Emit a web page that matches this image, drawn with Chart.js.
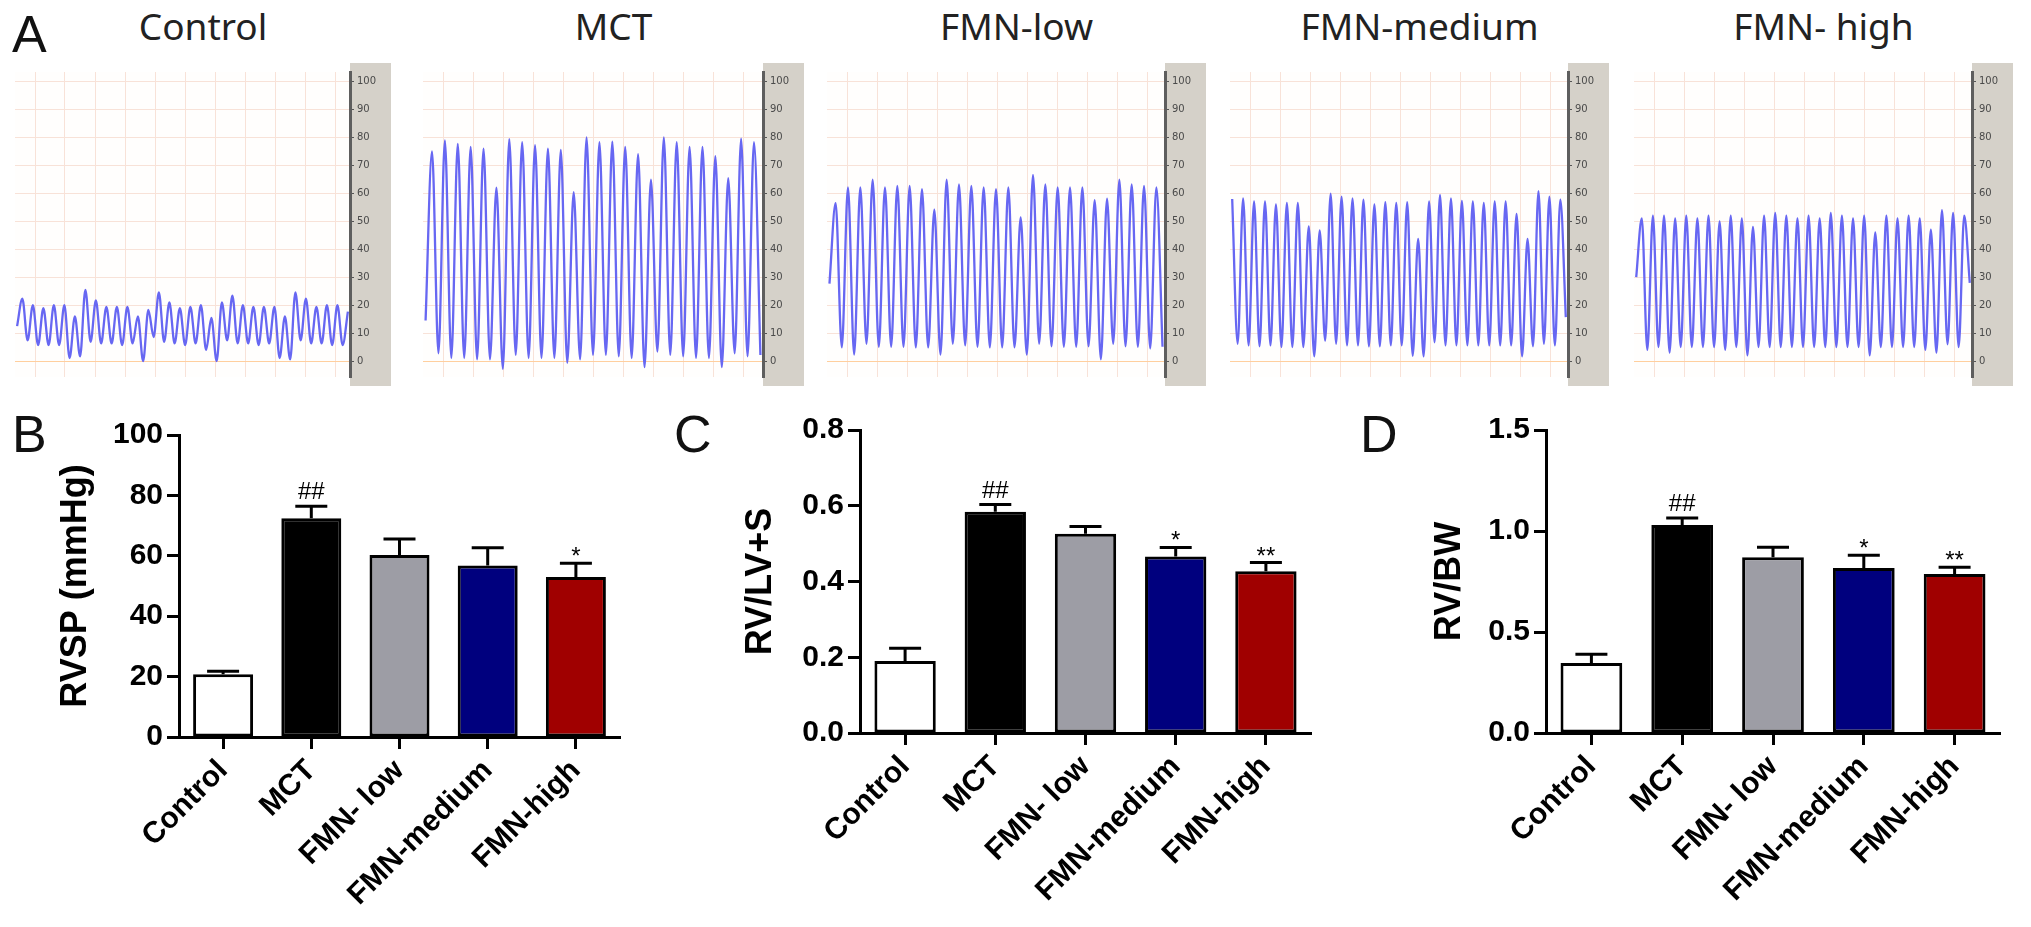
<!DOCTYPE html>
<html><head><meta charset="utf-8">
<script src="https://cdn.jsdelivr.net/npm/chart.js@4.4.1/dist/chart.umd.min.js"></script>
<style>
html,body{margin:0;padding:0;background:#fff;width:2031px;height:927px;overflow:hidden;position:relative}
canvas{position:absolute}
.lbl{position:absolute;font-family:'Liberation Sans',Arial,sans-serif;font-size:52px;line-height:52px;color:#111}
.ttl{position:absolute;font-family:'Noto Sans','Open Sans',sans-serif;font-size:37px;line-height:40px;color:#222;text-align:center;width:400px}
</style></head><body>
<script>
// ---------------- DATA ----------------
const traceTitles = ['Control', 'MCT', 'FMN-low', 'FMN-medium', 'FMN- high'];
const traceTicks = [0, 10, 20, 30, 40, 50, 60, 70, 80, 90, 100];
// alternating peak / trough pressures (mmHg) read from each recording
const controlTrace = [12.5, 22.3, 7.4, 20, 5.7, 18.9, 5.7, 20, 5.7, 20, 1.1, 16, 1.7, 25.5, 6.9, 21.7, 6.3, 19.4, 6.3, 19.4, 5.7, 19.4, 6.3, 16, 0, 18.3, 8.6, 24.6, 6.9, 21, 6.3, 18.9, 5.7, 19.4, 6.3, 20, 4, 15.4, 0, 21, 7.4, 23.4, 6.3, 20, 6.3, 19.4, 5.7, 19.4, 6.3, 19.4, 1.1, 16, 0.6, 24.6, 7.4, 22.3, 6.3, 19.4, 6.3, 20, 5.7, 20, 5.7, 17.7];
const mctTrace = [14.5, 75, 2.8, 78.9, 1.1, 77.7, 1.1, 76.6, 0.6, 76, 0.6, 62, -2.8, 79.4, 2.2, 78.3, 1.1, 77.2, 1.1, 76, 1.1, 75.5, -0.6, 60.4, 0.6, 80, 2.2, 78.3, 2.2, 78.5, 1.7, 76.6, 1.1, 74, -2.2, 64.9, 3.4, 80, 2.2, 78.3, 1.7, 76.6, 1.1, 76.6, 1.1, 73.3, -2.2, 65.4, 2.8, 79.6, 1.7, 78.3, 2.2];
const lowTrace = [27.7, 56.5, 4.9, 62.1, 2.3, 62.1, 6.2, 64.9, 5.1, 62.1, 5.1, 62.7, 5.1, 62.7, 4.9, 61.5, 4.9, 54.2, 2.3, 64.9, 6.2, 63.2, 5.6, 62.7, 5.1, 62.1, 4.9, 61.5, 4.9, 62.1, 4.9, 51.4, 2.3, 66.6, 6.2, 63.2, 5.3, 62.1, 5.1, 62.1, 5.1, 62.1, 5.3, 57.6, 0.6, 58.1, 6.2, 64.9, 5.3, 63.2, 5.1, 62.7, 4.5, 62.1, 5.1];
const mediumTrace = [58, 6.2, 58.2, 5.6, 57.1, 5.3, 57.1, 5.6, 56, 5, 56.6, 5, 56.6, 5, 48.2, 1.7, 46.7, 7.3, 59.9, 6.2, 58.8, 5.6, 58.2, 5.6, 57.7, 5.3, 56, 5.3, 56.8, 5.6, 56.6, 5.6, 56.8, 1.9, 43.7, 1.7, 57.1, 6.7, 59.4, 5.6, 58.2, 5.6, 57.3, 5.6, 57.1, 5.6, 56.6, 5.6, 57.1, 5.6, 57.1, 5.6, 52.6, 1.7, 43.7, 5.3, 60.8, 6.2, 58.8, 5.6, 57.7, 15.7];
const highTrace = [30, 51, 4, 52, 5, 52, 3, 51, 5, 52, 5, 51, 5, 52, 5, 50, 4, 52, 5, 51, 2, 48, 5, 52, 5, 53, 5, 52, 5, 51, 5, 52, 5, 51, 5, 53, 5, 52, 5, 51, 5, 52, 2, 46, 5, 52, 5, 51, 5, 52, 5, 51, 4, 47, 3, 54, 6, 53, 5, 52, 28];

const barCategories = ['Control', 'MCT', 'FMN- low', 'FMN-medium', 'FMN-high'];
const rvspMean = [20.8, 72.4, 60.3, 56.8, 53.0];
const rvspErr = [1.0, 4.0, 5.3, 5.9, 4.5];
const rvspMarks = ['', '##', '', '', '*'];
const rvspTicks = [0, 20, 40, 60, 80, 100];
const rvlvMean = [0.190, 0.584, 0.526, 0.466, 0.427];
const rvlvErr = [0.034, 0.019, 0.019, 0.024, 0.023];
const rvlvMarks = ['', '##', '', '*', '**'];
const rvlvTicks = [0, 0.2, 0.4, 0.6, 0.8];
const rvbwMean = [0.347, 1.030, 0.870, 0.817, 0.787];
const rvbwErr = [0.043, 0.034, 0.050, 0.063, 0.033];
const rvbwMarks = ['', '##', '', '*', '**'];
const rvbwTicks = [0, 0.5, 1.0, 1.5];

// ---------------- STYLE / LAYOUT ----------------
const FONT = "'Liberation Sans', Arial, Helvetica, sans-serif";
Chart.defaults.font.family = FONT;
Chart.defaults.color = '#000';
const barColors = ['#ffffff', '#000000', '#9d9da5', '#00007e', '#a00000'];

function addDiv(cls, text, left, top, extra) {
  const d = document.createElement('div');
  d.className = cls; d.textContent = text;
  d.style.left = left + 'px'; d.style.top = top + 'px';
  if (extra) Object.assign(d.style, extra);
  document.body.appendChild(d);
  return d;
}
function addCanvas(left, top, w, h) {
  const c = document.createElement('canvas');
  c.width = w; c.height = h;
  c.style.left = left + 'px'; c.style.top = top + 'px';
  c.style.width = w + 'px'; c.style.height = h + 'px';
  document.body.appendChild(c);
  return c;
}

// ---------------- PANEL A: pressure recordings ----------------
const stripPlugin = {
  id: 'strip',
  beforeDraw(chart) {
    const { ctx, chartArea: a, width, height } = chart;
    ctx.save();
    ctx.fillStyle = '#fffefd';
    ctx.fillRect(a.left, a.top, a.right - a.left, a.bottom - a.top);
    ctx.fillStyle = '#d5d1c9';
    ctx.fillRect(a.right, 0, width - a.right, height);
    ctx.restore();
  }
};

const traces = [controlTrace, mctTrace, lowTrace, mediumTrace, highTrace];
const traceLayout = [
  { left: 15, grid: 335 }, { left: 423, grid: 340 }, { left: 827, grid: 338 },
  { left: 1230, grid: 338 }, { left: 1634, grid: 338 }
];
const STRIP = 41, TTOP = 63, THEIGHT = 323;

traces.forEach((vals, k) => {
  const L = traceLayout[k];
  const c = addCanvas(L.left, TTOP, L.grid + STRIP, THEIGHT);
  const gridCols = Array.from({ length: Math.floor((L.grid - 20) / 30) + 1 }, (_, i) => i);
  new Chart(c, {
    type: 'line',
    data: {
      datasets: [{
        data: vals.map((v, i) => ({ x: i, y: v })),
        borderColor: '#6767f2', borderWidth: 2.3, pointRadius: 0,
        cubicInterpolationMode: 'monotone', fill: false
      }]
    },
    options: {
      responsive: false, animation: false, events: [],
      layout: { padding: 0 },
      plugins: { legend: { display: false }, tooltip: { enabled: false } },
      scales: {
        x: { type: 'linear', display: false, min: -0.4, max: vals.length - 0.6 },
        xg: {
          type: 'linear', position: 'bottom', min: -20 / 30, max: (L.grid - 20) / 30,
          afterBuildTicks: s => { s.ticks = gridCols.map(v => ({ value: v })); },
          ticks: { display: false },
          grid: { color: '#f8e2d8', lineWidth: 1, drawTicks: false },
          border: { display: false },
          afterFit: s => { s.height = 0; }
        },
        y: {
          position: 'right', min: -5.7, max: 103.4,
          afterBuildTicks: s => { s.ticks = traceTicks.map(v => ({ value: v })); },
          ticks: { font: { family: "'DejaVu Sans', sans-serif", size: 10 }, color: '#4a4a4a', padding: 3 },
          grid: {
            color: ctx => (ctx.tick && ctx.tick.value === 0) ? '#ffcf9e' : '#f8e2d8',
            lineWidth: 1, tickColor: '#555', tickLength: 4
          },
          border: { color: '#5e5e5e', width: 3 },
          afterFit: s => { s.width = STRIP; }
        }
      }
    },
    plugins: [stripPlugin]
  });
  addDiv('ttl', traceTitles[k], L.left + (L.grid + STRIP) / 2 - 200, 6);
});

// ---------------- PANELS B-D: bar charts ----------------
const errPlugin = {
  id: 'err',
  afterDatasetsDraw(chart, args, opts) {
    const meta = chart.getDatasetMeta(0);
    const ys = chart.scales.y;
    const vals = chart.data.datasets[0].data;
    const ctx = chart.ctx;
    ctx.save();
    ctx.strokeStyle = '#000'; ctx.lineWidth = 3; ctx.lineCap = 'butt';
    meta.data.forEach((bar, i) => {
      const yt = ys.getPixelForValue(vals[i] + opts.errors[i]);
      ctx.beginPath();
      ctx.moveTo(bar.x, bar.y); ctx.lineTo(bar.x, yt);
      ctx.moveTo(bar.x - 16, yt); ctx.lineTo(bar.x + 16, yt);
      ctx.stroke();
      const s = opts.marks[i];
      if (s) {
        ctx.font = '24px ' + FONT;
        ctx.textAlign = 'center'; ctx.textBaseline = 'alphabetic';
        ctx.fillStyle = '#000';
        const m = ctx.measureText(s);
        ctx.fillText(s, bar.x, yt - 7 - m.actualBoundingBoxDescent);
      }
    });
    ctx.restore();
  }
};

function barChart(box, title, means, errs, marks, ticksArr, yMax, decimals) {
  const c = addCanvas(box.left, box.top, box.width, box.height);
  new Chart(c, {
    type: 'bar',
    data: {
      labels: barCategories,
      datasets: [{
        data: means, backgroundColor: barColors, borderColor: '#000', borderWidth: 3,
        borderSkipped: false, barPercentage: 0.68, categoryPercentage: 1.0
      }]
    },
    options: {
      responsive: false, animation: false, events: [],
      layout: { padding: { left: box.padL, right: box.padR, top: box.padT, bottom: 0 } },
      plugins: {
        legend: { display: false }, tooltip: { enabled: false },
        err: { errors: errs, marks: marks }
      },
      scales: {
        x: {
          grid: { display: true, drawOnChartArea: false, offset: false, tickLength: 12, tickWidth: 3, tickColor: '#000' },
          border: { display: true, color: '#000', width: 3 },
          ticks: { minRotation: 45, maxRotation: 45, font: { size: 30, weight: 'bold' }, color: '#000', padding: 4 },
          afterFit: s => { s.height = box.xH; }
        },
        y: {
          min: 0, max: yMax,
          afterBuildTicks: s => { s.ticks = ticksArr.map(v => ({ value: v })); },
          grid: { display: true, drawOnChartArea: false, tickLength: 12, tickWidth: 3, tickColor: '#000' },
          border: { display: true, color: '#000', width: 3 },
          ticks: { font: { size: 30, weight: 'bold' }, color: '#000', padding: 4, callback: v => Number(v).toFixed(decimals) },
          title: { display: true, text: title, font: { size: 36, weight: 'bold' }, color: '#000', padding: { top: 4, bottom: 4 } },
          afterFit: s => { s.width = box.yW; }
        }
      }
    },
    plugins: [errPlugin]
  });
}

barChart({ left: 0, top: 400, width: 650, height: 527, padL: 50, padR: 30, padT: 35, yW: 129, xH: 190 },
  'RVSP (mmHg)', rvspMean, rvspErr, rvspMarks, rvspTicks, 100, 0);
barChart({ left: 660, top: 400, width: 680, height: 527, padL: 75, padR: 29, padT: 30, yW: 125, xH: 194 },
  'RV/LV+S', rvlvMean, rvlvErr, rvlvMarks, rvlvTicks, 0.8, 1);
barChart({ left: 1340, top: 400, width: 691, height: 527, padL: 84, padR: 31, padT: 30, yW: 122, xH: 194 },
  'RV/BW', rvbwMean, rvbwErr, rvbwMarks, rvbwTicks, 1.5, 1);

// panel letters
addDiv('lbl', 'A', 12, 8);
addDiv('lbl', 'B', 12, 408);
addDiv('lbl', 'C', 674, 408);
addDiv('lbl', 'D', 1360, 408);
</script>
</body></html>
